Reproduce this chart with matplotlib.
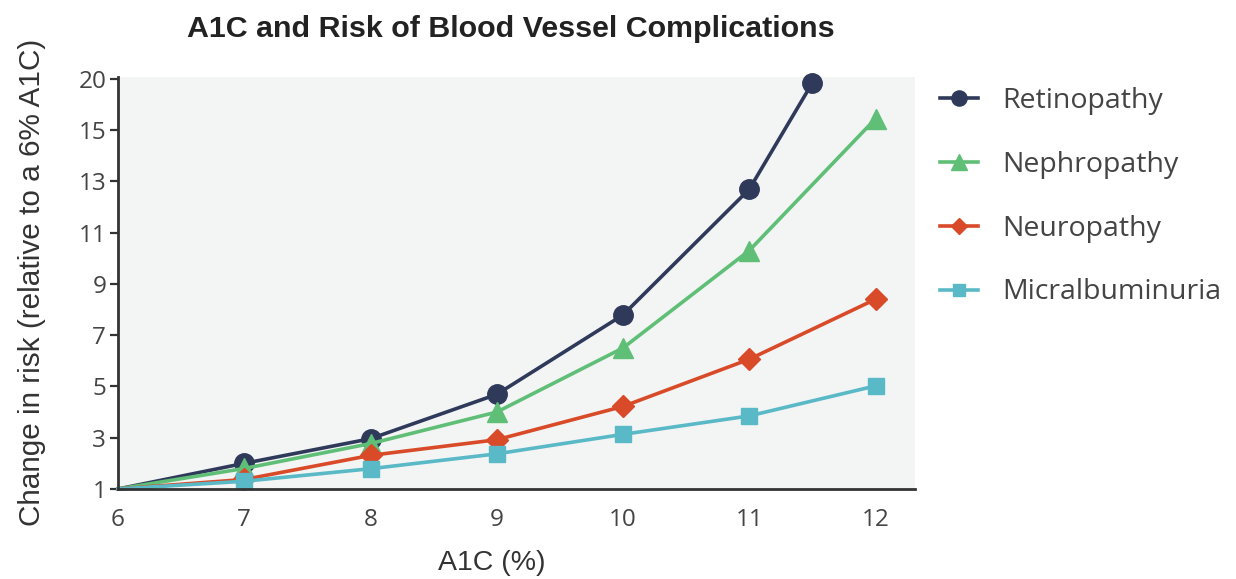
import numpy as np
import matplotlib
matplotlib.use('Agg')
import matplotlib.pyplot as plt

# values (relative risk vs. 6% A1C)
a1c_retino = [6, 7, 8, 9, 10, 11, 11.5]
retinopathy = [1, 2.0, 2.96, 4.69, 7.79, 12.69, 19.6]

a1c = [6, 7, 8, 9, 10, 11, 12]
nephropathy = [1, 1.8, 2.77, 4.0, 6.5, 10.3, 16.1]
neuropathy = [1, 1.37, 2.31, 2.92, 4.22, 6.06, 8.4]
micralbuminuria = [1, 1.3, 1.79, 2.37, 3.13, 3.85, 5.02]

y_ticks = [1, 3, 5, 7, 9, 11, 13, 15, 20]
x_ticks = [6, 7, 8, 9, 10, 11, 12]


# the original axis squeezes the 15..20 range into two regular steps
def fwd(y):
    y = np.asarray(y, dtype=float)
    return np.where(y <= 15, y, 15 + (y - 15) * 0.4)


def inv(d):
    d = np.asarray(d, dtype=float)
    return np.where(d <= 15, d, 15 + (d - 15) / 0.4)


txt = '#444444'
plt.rcParams['font.family'] = ['Open Sans', 'DejaVu Sans']

fig = plt.figure(figsize=(12.36, 5.79), dpi=100)
ax = fig.add_axes([0.0955, 0.1555, 0.6445, 0.712])
ax.set_facecolor('#f3f4f4')

series = [
    (a1c_retino, retinopathy, 'Retinopathy', '#2f3a5a', 'o', 14),
    (a1c, nephropathy, 'Nephropathy', '#5fbf77', '^', 15),
    (a1c, neuropathy, 'Neuropathy', '#d94a28', 'D', 11),
    (a1c, micralbuminuria, 'Micralbuminuria', '#5ab9c6', 's', 11),
]
for x, y, lab, c, m, ms in series:
    # no marker on the shared 6% origin point
    ax.plot(x, y, color=c, lw=2.6, marker=m, ms=ms, mec=c, mfc=c,
            markevery=list(range(1, len(x))), label=lab, clip_on=False)

ax.set_yscale('function', functions=(fwd, inv))
ax.set_ylim(1, 20.2)
ax.set_xlim(6, 12.31)
ax.set_yticks(y_ticks)
ax.set_yticklabels([str(v) for v in y_ticks])
ax.set_xticks(x_ticks)
ax.tick_params(axis='y', length=6, width=1.6, color='#333333',
               labelsize=17.5, labelcolor=txt, pad=2.5)
ax.tick_params(axis='x', length=0, labelsize=17.5, labelcolor=txt, pad=14)

for s in ['top', 'right']:
    ax.spines[s].set_visible(False)
for s in ['left', 'bottom']:
    ax.spines[s].set_color('#333333')
    ax.spines[s].set_linewidth(2)

ax.set_xlabel('A1C (%)', fontsize=20.5, color='#333333',
              family='Liberation Sans')
ax.xaxis.set_label_coords(0.469, -0.148)
ax.set_ylabel('Change in risk (relative to a 6% A1C)', fontsize=21.4,
              color='#333333', family='Liberation Sans')
ax.yaxis.set_label_coords(-0.09, 0.5)

fig.text(0.413, 0.950, 'A1C and Risk of Blood Vessel Complications',
         ha='center', va='center', fontsize=21.9, fontweight='bold',
         family='Liberation Sans', color='#222222')

leg = fig.legend(loc='upper left', bbox_to_anchor=(0.7605, 0.850),
                 frameon=False, fontsize=20.5, labelspacing=1.26,
                 borderpad=0, borderaxespad=0,
                 handlelength=1.33, handletextpad=0.85, markerscale=0.78)
for t in leg.get_texts():
    t.set_color(txt)

fig.savefig('out.png', dpi=100)
